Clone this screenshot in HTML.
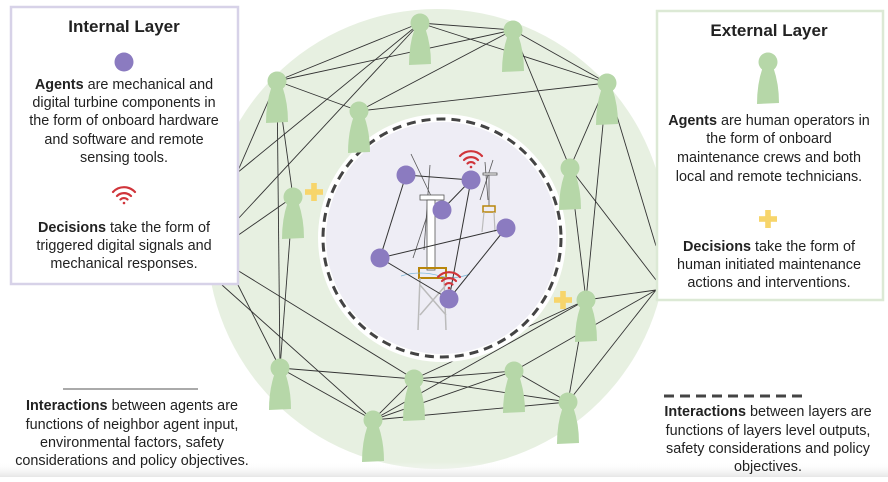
<!DOCTYPE html>
<html><head><meta charset="utf-8"><style>
body{margin:0;background:#fff;width:888px;height:477px;overflow:hidden}
svg text{font-family:"Liberation Sans",Arial,sans-serif;fill:#222;font-size:14.4px}
</style></head><body>
<svg width="888" height="477" viewBox="0 0 888 477" xmlns="http://www.w3.org/2000/svg">
<defs>
<g id="p"><circle cx="0" cy="0" r="9.5" fill="#b6d7a8"/><path d="M-5.5,6 Q-11,22 -11,42 L11,41 Q11,22 5.5,6 Z" fill="#b6d7a8"/></g>
<g id="w" fill="none" stroke="#d0343a" stroke-width="2.2" stroke-linecap="round"><path d="M-11,-4 A15,15 0 0 1 11,-4"/><path d="M-7,0 A10,10 0 0 1 7,0"/><path d="M-3.5,3.5 A5,5 0 0 1 3.5,3.5"/><circle cx="0" cy="7" r="1.3" fill="#d0343a" stroke="none"/></g>
<g id="plus" fill="#f7d56b"><rect x="-9" y="-2.8" width="18" height="5.6"/><rect x="-2.8" y="-9" width="5.6" height="18"/></g>
<linearGradient id="bg" x1="0" y1="0" x2="0" y2="1"><stop offset="0" stop-color="#fff" stop-opacity="0"/><stop offset="1" stop-color="#e6e6e6"/></linearGradient>
</defs>
<circle cx="437" cy="239" r="230" fill="#e7f0e1"/>
<g stroke="#333" stroke-width="0.9">
<line x1="420" y1="23" x2="513" y2="30"/><line x1="420" y1="23" x2="607" y2="83"/><line x1="420" y1="23" x2="277" y2="81"/><line x1="513" y1="30" x2="277" y2="81"/>
<line x1="513" y1="30" x2="359" y2="111"/><line x1="420" y1="23" x2="237" y2="173"/><line x1="420" y1="23" x2="237" y2="220"/><line x1="513" y1="30" x2="607" y2="83"/>
<line x1="513" y1="30" x2="570" y2="168"/><line x1="277" y1="81" x2="359" y2="111"/><line x1="277" y1="81" x2="293" y2="197"/><line x1="277" y1="81" x2="280" y2="368"/>
<line x1="277" y1="81" x2="237" y2="173"/><line x1="359" y1="111" x2="607" y2="83"/><line x1="607" y1="83" x2="570" y2="168"/><line x1="607" y1="83" x2="586" y2="300"/>
<line x1="607" y1="83" x2="656" y2="246"/><line x1="570" y1="168" x2="586" y2="300"/><line x1="570" y1="168" x2="656" y2="280"/><line x1="293" y1="197" x2="280" y2="368"/>
<line x1="293" y1="197" x2="237" y2="236"/><line x1="586" y1="300" x2="656" y2="290"/><line x1="586" y1="300" x2="414" y2="379"/><line x1="586" y1="300" x2="568" y2="402"/>
<line x1="586" y1="300" x2="373" y2="420"/><line x1="656" y1="290" x2="514" y2="371"/><line x1="656" y1="290" x2="568" y2="402"/><line x1="237" y1="270" x2="414" y2="379"/>
<line x1="222" y1="285" x2="373" y2="420"/><line x1="280" y1="368" x2="414" y2="379"/><line x1="280" y1="368" x2="373" y2="420"/><line x1="414" y1="379" x2="514" y2="371"/>
<line x1="414" y1="379" x2="568" y2="402"/><line x1="414" y1="379" x2="373" y2="420"/><line x1="514" y1="371" x2="373" y2="420"/><line x1="568" y1="402" x2="373" y2="420"/>
<line x1="514" y1="371" x2="568" y2="402"/><line x1="237" y1="283" x2="280" y2="368"/>
</g>
<circle cx="442" cy="238" r="124" fill="#fff"/>
<circle cx="442" cy="238" r="116" fill="#eeedf5"/>
<circle cx="442" cy="238" r="119" fill="none" stroke="#444" stroke-width="3" stroke-dasharray="9,6"/>
<g stroke="#555" stroke-width="0.8" fill="none">
<line x1="411" y1="154" x2="432" y2="198"/><line x1="430" y1="165" x2="424" y2="250"/><line x1="433" y1="198" x2="413" y2="258"/>
<rect x="420" y="195" width="24" height="5" fill="#fff"/><rect x="427" y="200" width="8" height="70" fill="#fff"/>
<path d="M419,268 L446,268 L446,278 L419,278 Z" stroke="#b8860b" stroke-width="2"/>
<path d="M420,278 L418,330 M444,278 L446,330 M420,285 L446,315 M446,285 L420,315" stroke="#bbb" stroke-width="1.5"/>
<path d="M401,276 Q420,270 440,276 Q455,280 470,274" stroke="#7ab7d8"/>
<line x1="485" y1="162" x2="488" y2="200"/><line x1="493" y1="160" x2="480" y2="200"/>
<rect x="483" y="173" width="14" height="2" fill="#fff"/><line x1="489" y1="175" x2="489" y2="206"/>
<rect x="483" y="206" width="12" height="6" stroke="#b8860b" stroke-width="1.5"/>
<path d="M484,212 L482,232 M494,212 L495,232" stroke="#bbb" stroke-width="1.2"/>
</g>
<g stroke="#333" stroke-width="1">
<line x1="406" y1="175" x2="471" y2="180"/><line x1="406" y1="175" x2="380" y2="258"/><line x1="471" y1="180" x2="442" y2="210"/><line x1="471" y1="180" x2="449" y2="299"/>
<line x1="380" y1="258" x2="506" y2="228"/><line x1="380" y1="258" x2="449" y2="299"/><line x1="506" y1="228" x2="449" y2="299"/>
</g>
<g fill="#8b7bc0"><circle cx="406" cy="175" r="9.5"/><circle cx="471" cy="180" r="9.5"/><circle cx="442" cy="210" r="9.5"/><circle cx="506" cy="228" r="9.5"/><circle cx="380" cy="258" r="9.5"/><circle cx="449" cy="299" r="9.5"/></g>
<use href="#w" x="471" y="160"/><use href="#w" x="449" y="281"/>
<use href="#plus" x="314" y="192"/><use href="#plus" x="563" y="300"/>
<g>
<use href="#p" x="420" y="23"/><use href="#p" x="513" y="30"/><use href="#p" x="277" y="81"/><use href="#p" x="359" y="111"/>
<use href="#p" x="607" y="83"/><use href="#p" x="570" y="168"/><use href="#p" x="293" y="197"/><use href="#p" x="586" y="300"/>
<use href="#p" x="280" y="368"/><use href="#p" x="414" y="379"/><use href="#p" x="514" y="371"/><use href="#p" x="568" y="402"/><use href="#p" x="373" y="420"/>
</g>
<rect x="0" y="462" width="888" height="15" fill="url(#bg)"/>
<rect x="11" y="7" width="227" height="277" fill="#fff" stroke="#d7d2e8" stroke-width="2.5"/>
<g text-anchor="middle">
<text x="124" y="32" style="font-size:17px;font-weight:bold">Internal Layer</text>
<circle cx="124" cy="62" r="9.5" fill="#8b7bc0"/>
<text x="124" y="89"><tspan font-weight="bold">Agents</tspan> are mechanical and</text>
<text x="124" y="107">digital turbine components in</text>
<text x="124" y="125">the form of onboard hardware</text>
<text x="124" y="144">and software and remote</text>
<text x="124" y="162">sensing tools.</text>
<use href="#w" x="124" y="196"/>
<text x="124" y="232"><tspan font-weight="bold">Decisions</tspan> take the form of</text>
<text x="124" y="250">triggered digital signals and</text>
<text x="124" y="268">mechanical responses.</text>
</g>
<rect x="657" y="11" width="226" height="289" fill="#fff" stroke="#dce9d5" stroke-width="2.5"/>
<g text-anchor="middle">
<text x="769" y="36" style="font-size:17px;font-weight:bold">External Layer</text>
<use href="#p" x="768" y="62"/>
<text x="769" y="125"><tspan font-weight="bold">Agents</tspan> are human operators in</text>
<text x="769" y="143">the form of onboard</text>
<text x="769" y="162">maintenance crews and both</text>
<text x="769" y="181">local and remote technicians.</text>
<use href="#plus" x="768" y="219"/>
<text x="769" y="251"><tspan font-weight="bold">Decisions</tspan> take the form of</text>
<text x="769" y="269">human initiated maintenance</text>
<text x="769" y="287">actions and interventions.</text>
</g>
<line x1="63" y1="389" x2="198" y2="389" stroke="#555" stroke-width="1"/>
<g text-anchor="middle">
<text x="132" y="410"><tspan font-weight="bold">Interactions</tspan> between agents are</text>
<text x="132" y="429">functions of neighbor agent input,</text>
<text x="132" y="447">environmental factors, safety</text>
<text x="132" y="465">considerations and policy objectives.</text>
</g>
<line x1="664" y1="396" x2="808" y2="396" stroke="#444" stroke-width="3" stroke-dasharray="10,6"/>
<g text-anchor="middle">
<text x="768" y="416"><tspan font-weight="bold">Interactions</tspan> between layers are</text>
<text x="768" y="435">functions of layers level outputs,</text>
<text x="768" y="453">safety considerations and policy</text>
<text x="768" y="471">objectives.</text>
</g>
</svg>
</body></html>
